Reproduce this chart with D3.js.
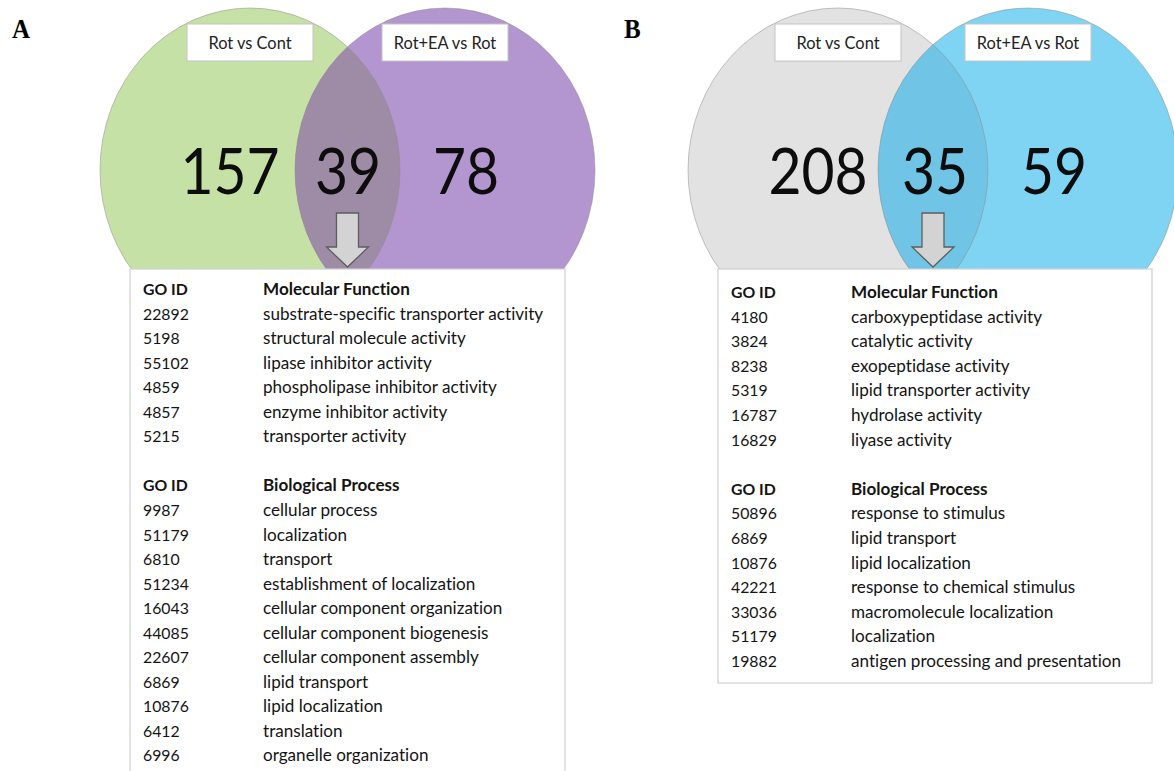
<!DOCTYPE html>
<html>
<head>
<meta charset="utf-8">
<script src="https://cdn.jsdelivr.net/npm/d3@7"></script>
<style>
  html, body { margin: 0; padding: 0; background: #ffffff; }
  svg { display: block; }
  svg text { font-variant-ligatures: none; font-feature-settings: "liga" 0, "clig" 0; }
</style>
</head>
<body>
<svg id="fig" width="1174" height="771"></svg>
<script>
// ---- data -------------------------------------------------------------
const panelLetters = ["A", "B"];
const setLabels = ["Rot vs Cont", "Rot+EA vs Rot"];

// Venn region counts: [only left, shared, only right]
const countsA = [157, 39, 78];
const countsB = [208, 35, 59];

// GO terms of the shared genes, panel A
const mfIdsA = ["22892", "5198", "55102", "4859", "4857", "5215"];
const mfTermsA = [
  "substrate-specific transporter activity",
  "structural molecule activity",
  "lipase inhibitor activity",
  "phospholipase inhibitor activity",
  "enzyme inhibitor activity",
  "transporter activity"
];
const bpIdsA = ["9987", "51179", "6810", "51234", "16043", "44085", "22607", "6869", "10876", "6412", "6996"];
const bpTermsA = [
  "cellular process",
  "localization",
  "transport",
  "establishment of localization",
  "cellular component organization",
  "cellular component biogenesis",
  "cellular component assembly",
  "lipid transport",
  "lipid localization",
  "translation",
  "organelle organization"
];

// GO terms of the shared genes, panel B
const mfIdsB = ["4180", "3824", "8238", "5319", "16787", "16829"];
const mfTermsB = [
  "carboxypeptidase activity",
  "catalytic activity",
  "exopeptidase activity",
  "lipid transporter activity",
  "hydrolase activity",
  "liyase activity"
];
const bpIdsB = ["50896", "6869", "10876", "42221", "33036", "51179", "19882"];
const bpTermsB = [
  "response to stimulus",
  "lipid transport",
  "lipid localization",
  "response to chemical stimulus",
  "macromolecule localization",
  "localization",
  "antigen processing and presentation"
];

const columnHeaders = ["GO ID", "Molecular Function", "Biological Process"];

// ---- layout -----------------------------------------------------------
const FONT = "Lato, 'Open Sans', sans-serif";
const svg = d3.select("#fig");

const panels = [
  {
    letter: panelLetters[0], letterX: 12,
    counts: countsA,
    cx: [250, 445], cy: 170, rx: 150, ry: 162,
    fills: ["#c6e1a6", "#b395d0"], overlapFill: "#9e8ba6",
    numX: [230, 348, 466],
    table: { x: 130, y: 269, w: 435, h: 520, firstRow: 289, step: 24.55, idX: 143, termX: 263 },
    mf: [mfIdsA, mfTermsA], bp: [bpIdsA, bpTermsA]
  },
  {
    letter: panelLetters[1], letterX: 624,
    counts: countsB,
    cx: [838, 1028], cy: 170, rx: 150, ry: 162,
    fills: ["#e2e2e2", "#80d4f3"], overlapFill: "#70c4e5",
    numX: [818, 935, 1054],
    table: { x: 718, y: 269, w: 434, h: 414, firstRow: 292, step: 24.6, idX: 731, termX: 851 },
    mf: [mfIdsB, mfTermsB], bp: [bpIdsB, bpTermsB]
  }
];

panels.forEach((p, pi) => {
  const g = svg.append("g").attr("class", "panel-" + p.letter);

  // clip to the left set so the shared region can be painted separately
  const clipId = "clip-left-" + pi;
  svg.append("defs").append("clipPath").attr("id", clipId)
    .append("ellipse")
    .attr("cx", p.cx[0]).attr("cy", p.cy).attr("rx", p.rx).attr("ry", p.ry);

  // two sets
  g.selectAll("ellipse.set")
    .data(p.cx)
    .join("ellipse")
    .attr("class", "set")
    .attr("cx", d => d).attr("cy", p.cy)
    .attr("rx", p.rx).attr("ry", p.ry)
    .attr("fill", (d, i) => p.fills[i]);

  // intersection
  g.append("ellipse")
    .attr("cx", p.cx[1]).attr("cy", p.cy).attr("rx", p.rx).attr("ry", p.ry)
    .attr("clip-path", `url(#${clipId})`)
    .attr("fill", p.overlapFill);

  // outlines on top
  g.selectAll("ellipse.outline")
    .data(p.cx)
    .join("ellipse")
    .attr("class", "outline")
    .attr("cx", d => d).attr("cy", p.cy)
    .attr("rx", p.rx).attr("ry", p.ry)
    .attr("fill", "none")
    .attr("stroke", "#8c8c8c").attr("stroke-opacity", 0.5).attr("stroke-width", 1);

  // set name boxes
  const labelW = 126, labelH = 37, labelY = 24;
  const lab = g.selectAll("g.setlabel")
    .data(setLabels)
    .join("g").attr("class", "setlabel")
    .attr("transform", (d, i) => `translate(${p.cx[i] - labelW / 2},${labelY})`);
  lab.append("rect")
    .attr("width", labelW).attr("height", labelH)
    .attr("fill", "#ffffff").attr("stroke", "#c4c4c4").attr("stroke-width", 1);
  lab.append("text")
    .attr("x", labelW / 2).attr("y", labelH / 2 + 6)
    .attr("text-anchor", "middle")
    .attr("font-family", FONT).attr("font-size", 16.4).attr("fill", "#222")
    .text(d => d);

  // region counts
  g.selectAll("text.count")
    .data(p.counts)
    .join("text").attr("class", "count")
    .attr("transform", (d, i) => `translate(${p.numX[i]},194) scale(1,1.13)`)
    .attr("text-anchor", "middle")
    .attr("font-family", FONT).attr("font-size", 57).attr("fill", "#0d0d0d")
    .text(d => d);

  // GO term table
  const t = p.table;
  g.append("rect")
    .attr("x", t.x).attr("y", t.y).attr("width", t.w).attr("height", t.h)
    .attr("fill", "#ffffff").attr("stroke", "#cfcfcf").attr("stroke-width", 1.2);

  const rows = [];
  rows.push({ id: columnHeaders[0], term: columnHeaders[1], head: true });
  p.mf[0].forEach((id, i) => rows.push({ id, term: p.mf[1][i], head: false }));
  rows.push(null); // spacer line between the two groups
  rows.push({ id: columnHeaders[0], term: columnHeaders[2], head: true });
  p.bp[0].forEach((id, i) => rows.push({ id, term: p.bp[1][i], head: false }));

  const rowY = d3.scaleLinear().domain([0, 1]).range([t.firstRow, t.firstRow + t.step]);

  const rg = g.selectAll("g.row")
    .data(rows.map((r, i) => ({ r, i })).filter(d => d.r))
    .join("g").attr("class", "row")
    .attr("transform", d => `translate(0,${rowY(d.i) + 6})`);
  rg.append("text")
    .attr("x", t.idX)
    .attr("font-family", FONT).attr("font-size", 15.8)
    .attr("font-weight", d => d.r.head ? 700 : 400)
    .attr("fill", "#141414")
    .text(d => d.r.id);
  rg.append("text")
    .attr("x", t.termX)
    .attr("font-family", FONT).attr("font-size", 17.1)
    .attr("font-weight", d => d.r.head ? 700 : 400)
    .attr("fill", "#141414")
    .text(d => d.r.term);

  // arrow pointing from the shared region into the table
  const ax = (p.cx[0] + p.rx + p.cx[1] - p.rx) / 2;
  const arrow = d3.path();
  arrow.moveTo(ax - 11, 213);
  arrow.lineTo(ax + 11, 213);
  arrow.lineTo(ax + 11, 247);
  arrow.lineTo(ax + 21, 247);
  arrow.lineTo(ax, 267);
  arrow.lineTo(ax - 21, 247);
  arrow.lineTo(ax - 11, 247);
  arrow.closePath();
  g.append("path")
    .attr("d", arrow.toString())
    .attr("fill", "#d3d3d3").attr("stroke", "#5e5e5e").attr("stroke-width", 1.3)
    .attr("stroke-linejoin", "miter");

  // panel letter
  g.append("text")
    .attr("transform", `translate(${p.letterX},38) scale(1,1.12)`)
    .attr("font-family", "'Liberation Serif', 'DejaVu Serif', serif")
    .attr("font-weight", 700).attr("font-size", 25).attr("fill", "#000")
    .text(p.letter);
});
</script>
</body>
</html>
